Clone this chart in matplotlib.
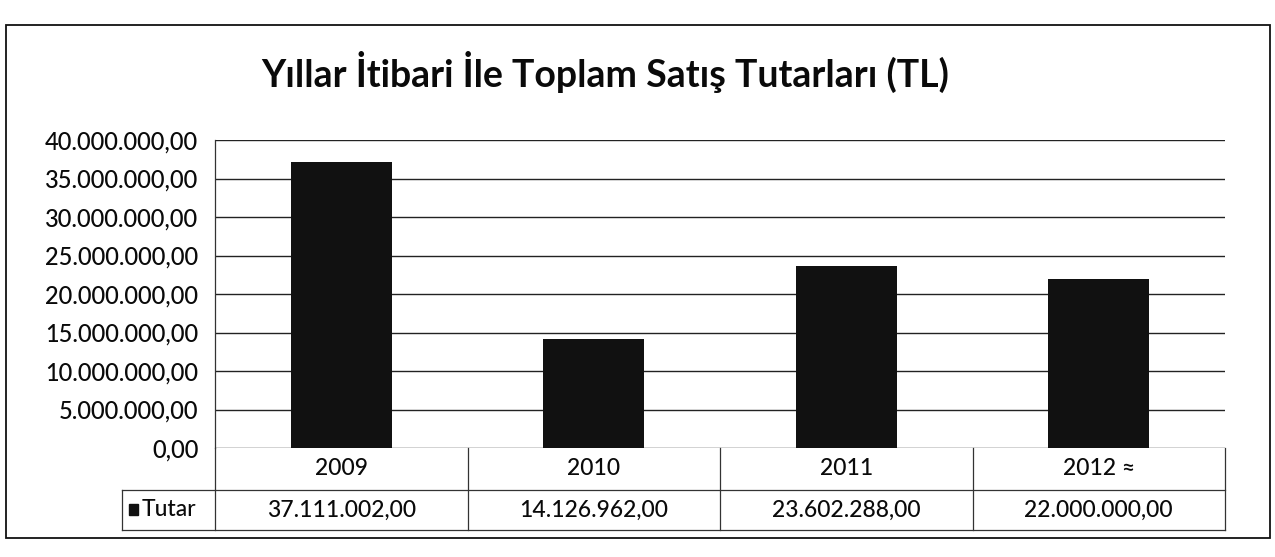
import matplotlib
matplotlib.use("Agg")
import matplotlib.pyplot as plt
import matplotlib.transforms as mtransforms
from matplotlib.patches import Rectangle

# Data (values from the chart's data table)
years = ["2009", "2010", "2011", "2012 ≈"]
tutar = [37111002.00, 14126962.00, 23602288.00, 22000000.00]
y_ticks = [0, 5e6, 10e6, 15e6, 20e6, 25e6, 30e6, 35e6, 40e6]
series_name = "Tutar"
title = "Yıllar İtibari İle Toplam Satış Tutarları (TL)"

FONT = ["Lato", "DejaVu Sans"]
plt.rcParams["font.family"] = FONT


def fmt_tr(v):
    # Turkish style: dot thousands separator, comma decimals
    s = f"{v:,.2f}"
    return s.replace(",", "X").replace(".", ",").replace("X", ".")


W, H = 1275, 557
fig = plt.figure(figsize=(W / 100, H / 100), dpi=100)

# outer chart border
fig.patches.append(Rectangle((6 / W, 1 - 538 / H), 1264 / W, 513 / H,
                             transform=fig.transFigure, fill=False,
                             edgecolor="#111111", linewidth=1.3))

fig.text(0.475, 1 - 72 / H, title, ha="center", va="center",
         fontsize=27, fontweight="bold", color="#0a0a0a")

ax = fig.add_axes([215 / W, 1 - 448 / H, 1010 / W, 308 / H])
x = range(len(years))
ax.bar(x, tutar, width=0.40, color="#111111", zorder=3)

ax.set_xlim(-0.5, len(years) - 0.5)
ax.set_ylim(0, 40e6)
ax.set_yticks(y_ticks)
ax.set_yticklabels([fmt_tr(v) for v in y_ticks], fontsize=17,
                   color="#0a0a0a", fontweight="medium")
ax.tick_params(axis="y", length=0, pad=12)
ax.set_xticks([])
ax.grid(axis="y", color="#222222", linewidth=1.0, zorder=0)
for side in ["top", "right", "bottom"]:
    ax.spines[side].set_visible(False)
ax.spines["left"].set_color("#333333")
ax.spines["left"].set_linewidth(0.9)
ax.spines["left"].set_linestyle((0, (2, 1)))

# data table below the plot
tr = mtransforms.blended_transform_factory(ax.transData, ax.transAxes)
r1, r2 = -0.136, -0.266
leg_left = -0.87
lc = "#333333"
lkw = dict(color=lc, linewidth=0.9, transform=tr, clip_on=False)
ax.plot([-0.5, 3.5], [r1, r1], **lkw)
ax.plot([leg_left, 3.5], [r2, r2], **lkw)
ax.plot([leg_left, -0.5], [r1, r1], **lkw)
ax.plot([leg_left, leg_left], [r1, r2], **lkw)
for xv in [-0.5, 0.5, 1.5, 2.5, 3.5]:
    ax.plot([xv, xv], [0, r2], **lkw)

tkw = dict(transform=tr, ha="center", va="center", fontsize=16.5,
           color="#0a0a0a", fontweight="medium")
for i, (yr, v) in enumerate(zip(years, tutar)):
    ax.text(i, r1 / 2, yr, **tkw)
    ax.text(i, (r1 + r2) / 2, fmt_tr(v), **tkw)

ax.add_patch(Rectangle((leg_left + 0.03, (r1 + r2) / 2 - 0.018), 0.035, 0.036,
                       transform=tr, color="#111111", clip_on=False))
ax.text(leg_left + 0.08, (r1 + r2) / 2, series_name, transform=tr,
        ha="left", va="center", fontsize=16.5, color="#0a0a0a",
        fontweight="medium")

fig.savefig("out.png", dpi=100)
